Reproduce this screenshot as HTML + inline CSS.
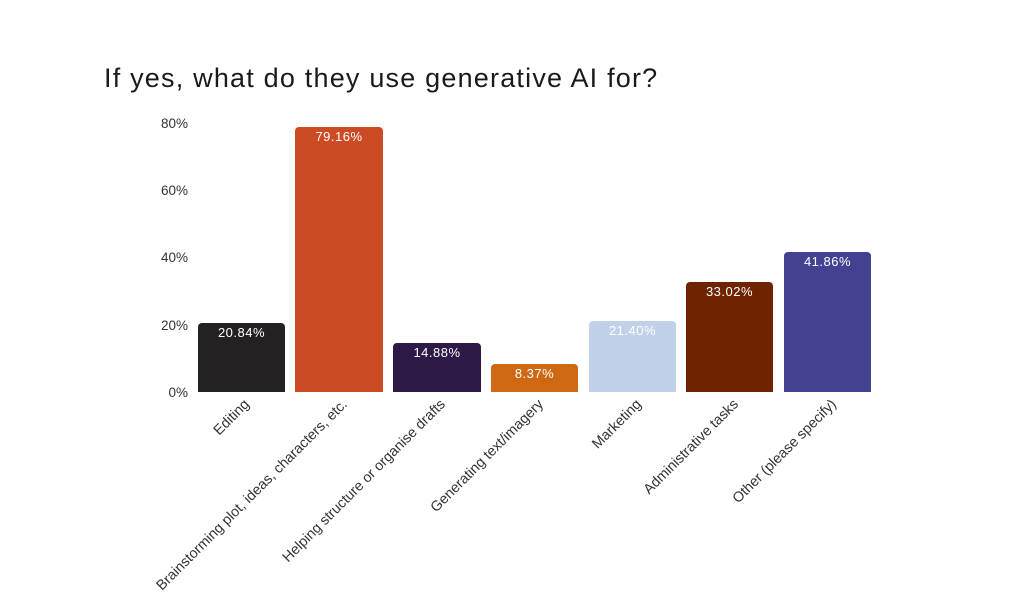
<!DOCTYPE html>
<html><head><style>
html,body{margin:0;padding:0;background:#fff;width:1024px;height:610px;overflow:hidden}
svg{display:block}
text{font-family:"Liberation Sans",sans-serif}
</style></head><body>
<svg width="1024" height="610" viewBox="0 0 1024 610">
<text x="104" y="87" font-size="27" letter-spacing="1.2" fill="#1a1a1a">If yes, what do they use generative AI for?</text>
<g font-size="13.5" fill="#333" text-anchor="end">
<text x="188" y="397">0%</text>
<text x="188" y="330">20%</text>
<text x="188" y="262">40%</text>
<text x="188" y="195">60%</text>
<text x="188" y="128">80%</text>
</g>
<g>
<path d="M198,392 V327 a4,4 0 0 1 4,-4 H281 a4,4 0 0 1 4,4 V392Z" fill="#252122"/>
<path d="M295,392 V131 a4,4 0 0 1 4,-4 H379 a4,4 0 0 1 4,4 V392Z" fill="#cc4b24"/>
<path d="M393,392 V347 a4,4 0 0 1 4,-4 H477 a4,4 0 0 1 4,4 V392Z" fill="#2d1a47"/>
<path d="M491,392 V368 a4,4 0 0 1 4,-4 H574 a4,4 0 0 1 4,4 V392Z" fill="#cf6812"/>
<path d="M589,392 V325 a4,4 0 0 1 4,-4 H672 a4,4 0 0 1 4,4 V392Z" fill="#c2d1ea"/>
<path d="M686,392 V286 a4,4 0 0 1 4,-4 H769 a4,4 0 0 1 4,4 V392Z" fill="#6f2300"/>
<path d="M784,392 V256 a4,4 0 0 1 4,-4 H867 a4,4 0 0 1 4,4 V392Z" fill="#434291"/>
</g>
<g font-size="13" letter-spacing="0.5" fill="#fff" text-anchor="middle">
<text x="241.5" y="337">20.84%</text>
<text x="339" y="141">79.16%</text>
<text x="437" y="357">14.88%</text>
<text x="534.5" y="378">8.37%</text>
<text x="632.5" y="335">21.40%</text>
<text x="729.5" y="296">33.02%</text>
<text x="827.5" y="266">41.86%</text>
</g>
<g font-size="14.3" fill="#333" text-anchor="end">
<text transform="translate(250,405) rotate(-45)">Editing</text>
<text transform="translate(348,405) rotate(-45)">Brainstorming plot, ideas, characters, etc.</text>
<text transform="translate(446,405) rotate(-45)">Helping structure or organise drafts</text>
<text transform="translate(544,405) rotate(-45)">Generating text/imagery</text>
<text transform="translate(642,405) rotate(-45)">Marketing</text>
<text transform="translate(739,405) rotate(-45)">Administrative tasks</text>
<text transform="translate(837,405) rotate(-45)">Other (please specify)</text>
</g>
</svg>
</body></html>
